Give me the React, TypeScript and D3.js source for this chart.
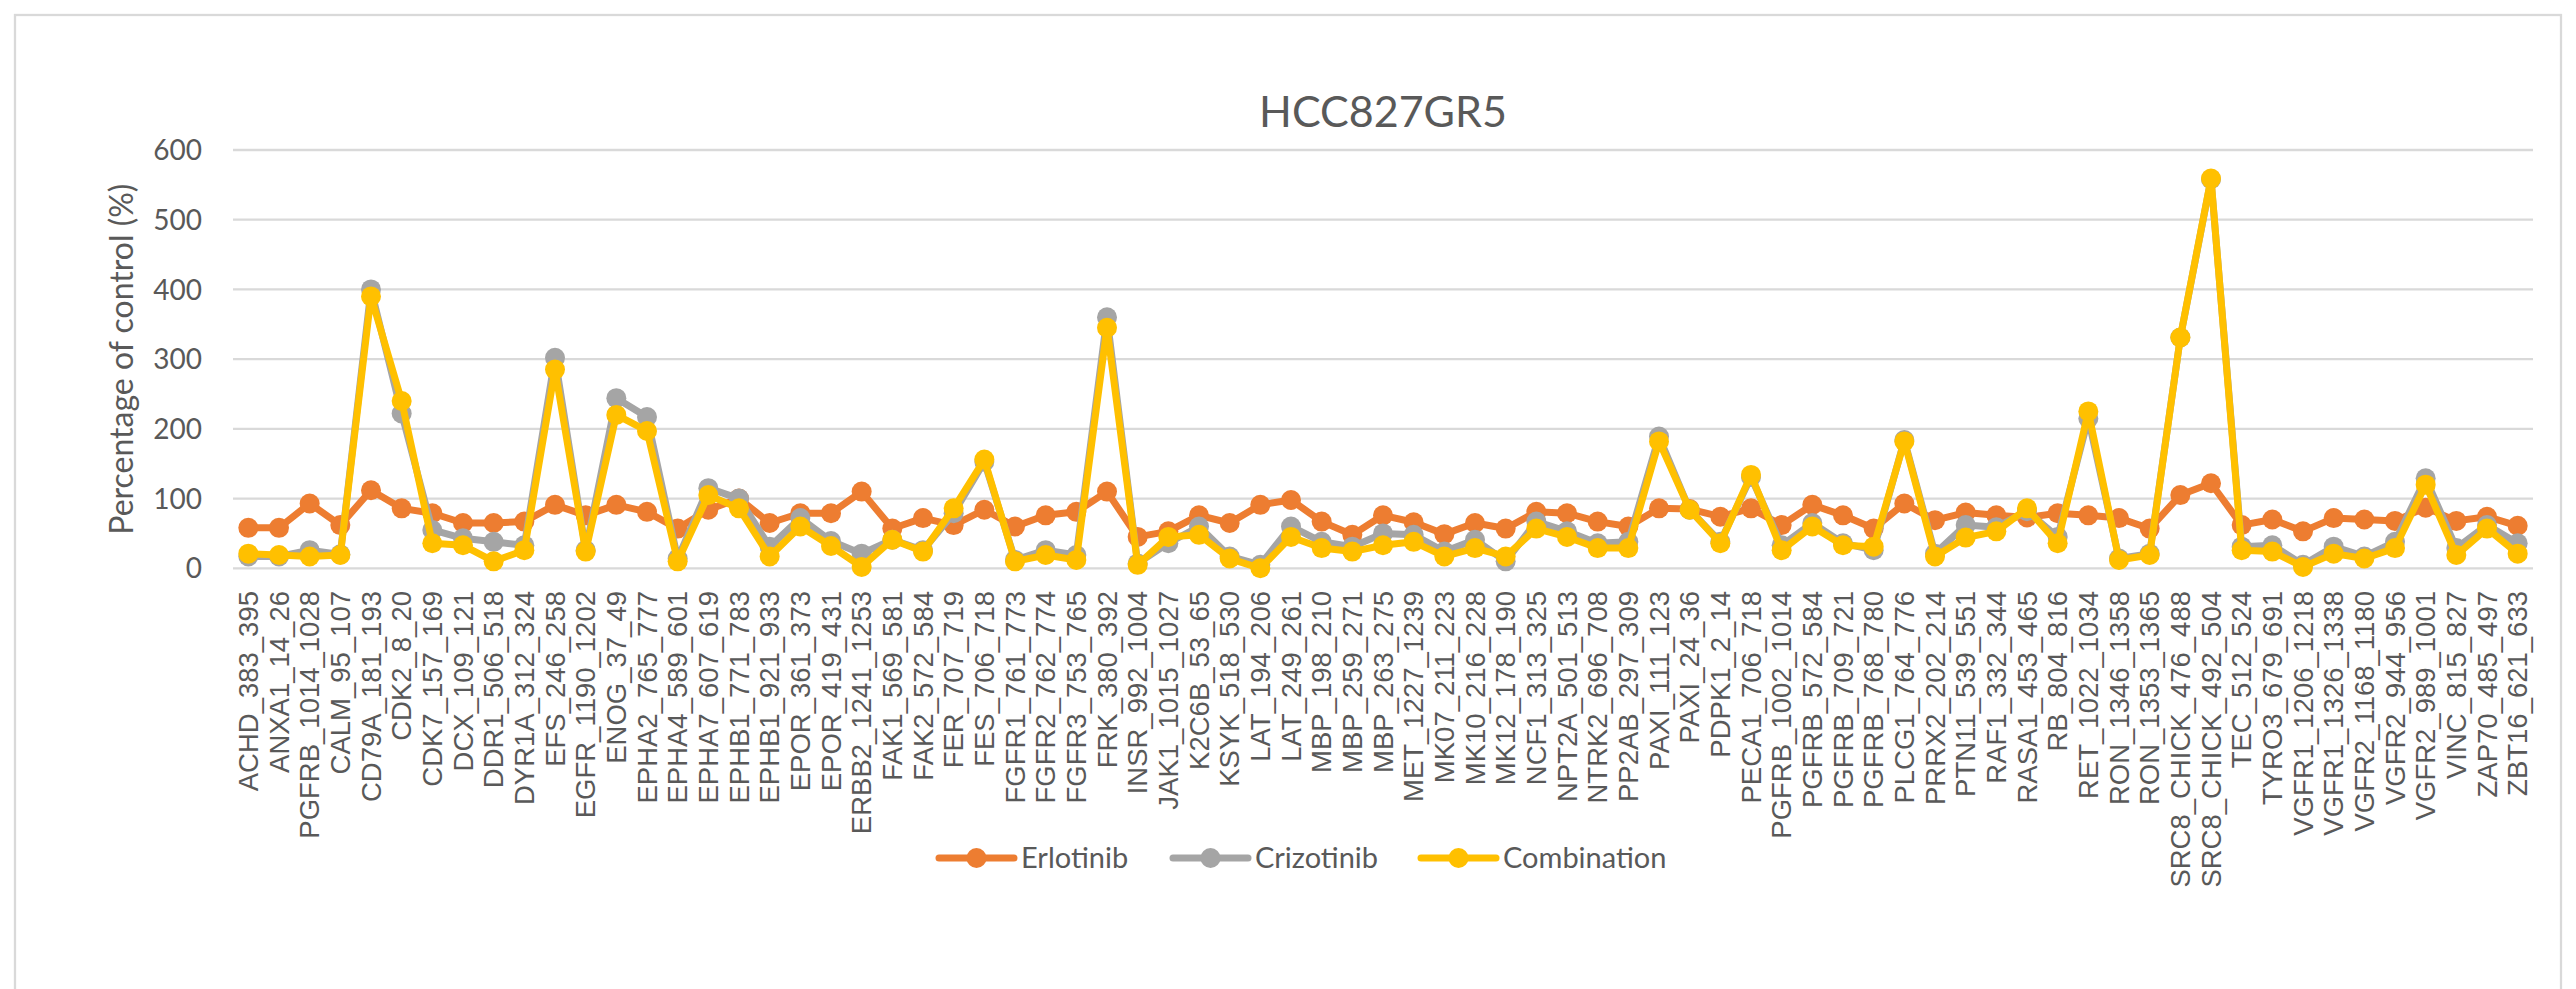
import React from "react";
import * as d3 from "d3";

const categories = [
  "ACHD_383_395","ANXA1_14_26","PGFRB_1014_1028","CALM_95_107","CD79A_181_193","CDK2_8_20",
  "CDK7_157_169","DCX_109_121","DDR1_506_518","DYR1A_312_324","EFS_246_258","EGFR_1190_1202",
  "ENOG_37_49","EPHA2_765_777","EPHA4_589_601","EPHA7_607_619","EPHB1_771_783","EPHB1_921_933",
  "EPOR_361_373","EPOR_419_431","ERBB2_1241_1253","FAK1_569_581","FAK2_572_584","FER_707_719",
  "FES_706_718","FGFR1_761_773","FGFR2_762_774","FGFR3_753_765","FRK_380_392","INSR_992_1004",
  "JAK1_1015_1027","K2C6B_53_65","KSYK_518_530","LAT_194_206","LAT_249_261","MBP_198_210",
  "MBP_259_271","MBP_263_275","MET_1227_1239","MK07_211_223","MK10_216_228","MK12_178_190",
  "NCF1_313_325","NPT2A_501_513","NTRK2_696_708","PP2AB_297_309","PAXI_111_123","PAXI_24_36",
  "PDPK1_2_14","PECA1_706_718","PGFRB_1002_1014","PGFRB_572_584","PGFRB_709_721","PGFRB_768_780",
  "PLCG1_764_776","PRRX2_202_214","PTN11_539_551","RAF1_332_344","RASA1_453_465","RB_804_816",
  "RET_1022_1034","RON_1346_1358","RON_1353_1365","SRC8_CHICK_476_488","SRC8_CHICK_492_504","TEC_512_524",
  "TYRO3_679_691","VGFR1_1206_1218","VGFR1_1326_1338","VGFR2_1168_1180","VGFR2_944_956","VGFR2_989_1001",
  "VINC_815_827","ZAP70_485_497","ZBT16_621_633"
];

const erlotinib = [
  58,58,93,62,112,86,79,65,65,67,91,76,91,81,57,84,100,65,79,79,
  110,57,72,62,84,60,76,81,110,45,53,76,65,91,98,67,48,76,66,49,
  65,57,81,79,67,60,86,85,74,86,62,91,76,57,93,69,80,76,73,79,
  76,72,57,105,122,62,70,53,72,70,68,87,68,74,61
];

const crizotinib = [
  17,17,26,20,400,222,55,43,38,33,302,26,244,217,14,115,100,31,72,39,
  21,41,26,79,153,12,26,19,360,7,36,60,17,5,60,38,31,50,48,24,
  41,10,67,53,36,38,189,84,38,131,33,65,36,26,184,21,62,59,82,45,
  215,14,21,331,558,31,33,5,31,17,38,129,29,62,36
];

const combination = [
  21,19,17,19,390,240,36,33,10,26,285,24,220,197,10,105,86,17,60,32,
  2,41,24,86,156,10,19,12,345,5,45,48,14,0,45,29,24,33,38,17,
  29,17,57,45,29,29,182,84,36,134,26,60,33,31,182,17,44,53,86,36,
  225,12,19,331,559,26,24,2,21,14,29,120,19,57,21
];

const seriesNames = ["Erlotinib", "Crizotinib", "Combination"];
const seriesColors = ["#ED7D31", "#A5A5A5", "#FFC000"];
const seriesValues = [erlotinib, crizotinib, combination];
const yTicks = [0, 100, 200, 300, 400, 500, 600];

const W = 2576;
const H = 989;
const plot = { left: 233, right: 2533, top: 150, bottom: 568.3 };
const textColor = "#595959";
const gridColor = "#D9D9D9";
const uiFont = "Lato, 'Open Sans', sans-serif";
const labelFont = "'Liberation Sans', Arial, sans-serif";
const legendStarts = [939, 1173, 1421];

export default function App() {
  const x = d3.scaleBand<string>().domain(categories).range([plot.left, plot.right]).padding(0);
  const cx = (c: string) => (x(c) as number) + x.bandwidth() / 2;
  const y = d3.scaleLinear().domain([0, 600]).range([plot.bottom, plot.top]);
  const line = d3
    .line<number>()
    .x((_, i) => cx(categories[i]))
    .y((v) => y(v));

  return (
    <svg
      width={W}
      height={H}
      style={{ position: "absolute", left: 0, top: 0, background: "#fff" }}
    >
      <rect x={0} y={0} width={W} height={H} fill="#fff" />
      <rect x={15} y={15} width={2546} height={1000} fill="#fff" stroke={gridColor} strokeWidth={2.3} />
      <text
        x={(plot.left + plot.right) / 2}
        y={126.5}
        textAnchor="middle"
        fontFamily={uiFont}
        fontSize={43}
        fill={textColor}
      >
        HCC827GR5
      </text>
      {yTicks.map((t) => (
        <g key={t}>
          <line x1={plot.left} x2={plot.right} y1={y(t)} y2={y(t)} stroke={gridColor} strokeWidth={2.3} />
          <text
            x={202}
            y={y(t)}
            dy="0.36em"
            textAnchor="end"
            fontFamily={uiFont}
            fontSize={28}
            fill={textColor}
          >
            {t}
          </text>
        </g>
      ))}
      <text
        transform={`translate(122, ${(plot.top + plot.bottom) / 2}) rotate(-90)`}
        textAnchor="middle"
        dy="0.35em"
        fontFamily={uiFont}
        fontSize={32}
        fill={textColor}
      >
        Percentage of control (%)
      </text>
      {categories.map((c) => (
        <text
          key={c}
          transform={`translate(${cx(c)}, 591) rotate(-90)`}
          textAnchor="end"
          dy="0.35em"
          fontFamily={labelFont}
          fontSize={27.5}
          fill={textColor}
        >
          {c}
        </text>
      ))}
      {seriesValues.map((vals, s) => (
        <g key={seriesNames[s]}>
          <path
            d={line(vals) as string}
            fill="none"
            stroke={seriesColors[s]}
            strokeWidth={7}
            strokeLinejoin="round"
            strokeLinecap="round"
          />
          {vals.map((v, i) => (
            <circle key={i} cx={cx(categories[i])} cy={y(v)} r={10} fill={seriesColors[s]} />
          ))}
        </g>
      ))}
      {seriesNames.map((n, s) => (
        <g key={n} transform={`translate(${legendStarts[s]}, 858)`}>
          <line x1={0} x2={75} y1={0} y2={0} stroke={seriesColors[s]} strokeWidth={7} strokeLinecap="round" />
          <circle cx={37.5} cy={0} r={10} fill={seriesColors[s]} />
          <text x={82} y={0} dy="0.36em" fontFamily={uiFont} fontSize={29} fill={textColor}>
            {n}
          </text>
        </g>
      ))}
    </svg>
  );
}
